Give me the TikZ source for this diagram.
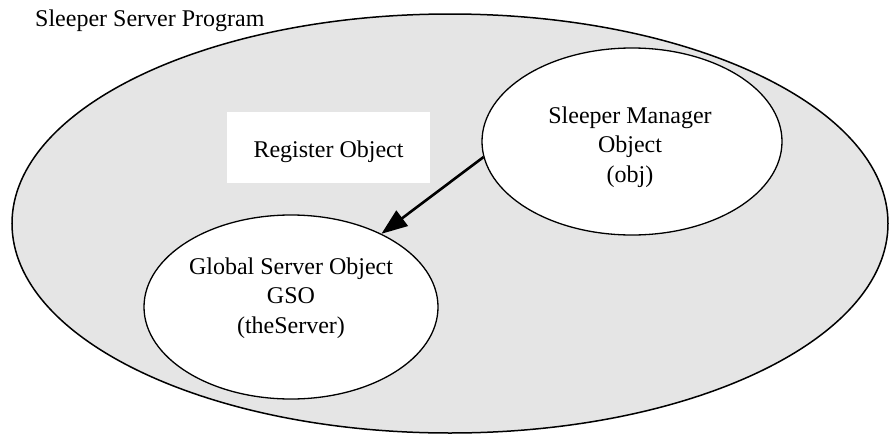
\documentclass[tikz,border=0pt]{standalone}
\usepackage{fontspec}
\setmainfont{Liberation Serif}
\usetikzlibrary{shapes.geometric,arrows.meta}
\definecolor{progfill}{HTML}{E5E5E5}
\begin{document}
\begin{tikzpicture}[x=1pt,y=-1pt,
  outer/.style={ellipse, draw=black, line width=1.5pt, fill=progfill, inner sep=0pt},
  obj/.style={ellipse, draw=black, line width=1.3pt, fill=white, inner sep=0pt},
  txt/.style={font=\fontsize{24}{29.5}\selectfont, inner sep=0pt, align=center},
  link/.style={line width=2.6pt, -{Triangle[length=26pt,width=19pt]}}
]
\useasboundingbox (0,0) rectangle (889,434);
\node[outer, minimum width=876pt, minimum height=419pt] (prog) at (450,223.5) {};
\node[txt, anchor=base west] (title) at (35,26) {Sleeper Server Program};
\node[fill=white, inner sep=0pt, minimum width=203pt, minimum height=71pt] (reg) at (328.5,147.5) {};
\node[txt, anchor=base] (regtext) at (328.5,157) {Register Object};
\node[obj, minimum width=300pt, minimum height=187pt] (sm) at (632,141.5) {};
\node[txt, anchor=base] (smtext) at (630,182) {Sleeper Manager\\Object\\(obj)};
\node[obj, minimum width=294pt, minimum height=184pt] (gso) at (291,307) {};
\node[txt, anchor=base] (gsotext) at (291,333) {Global Server Object\\GSO\\(theServer)};
\draw[link] (sm.186.6) -- (gso.39.6);
\end{tikzpicture}
\end{document}
